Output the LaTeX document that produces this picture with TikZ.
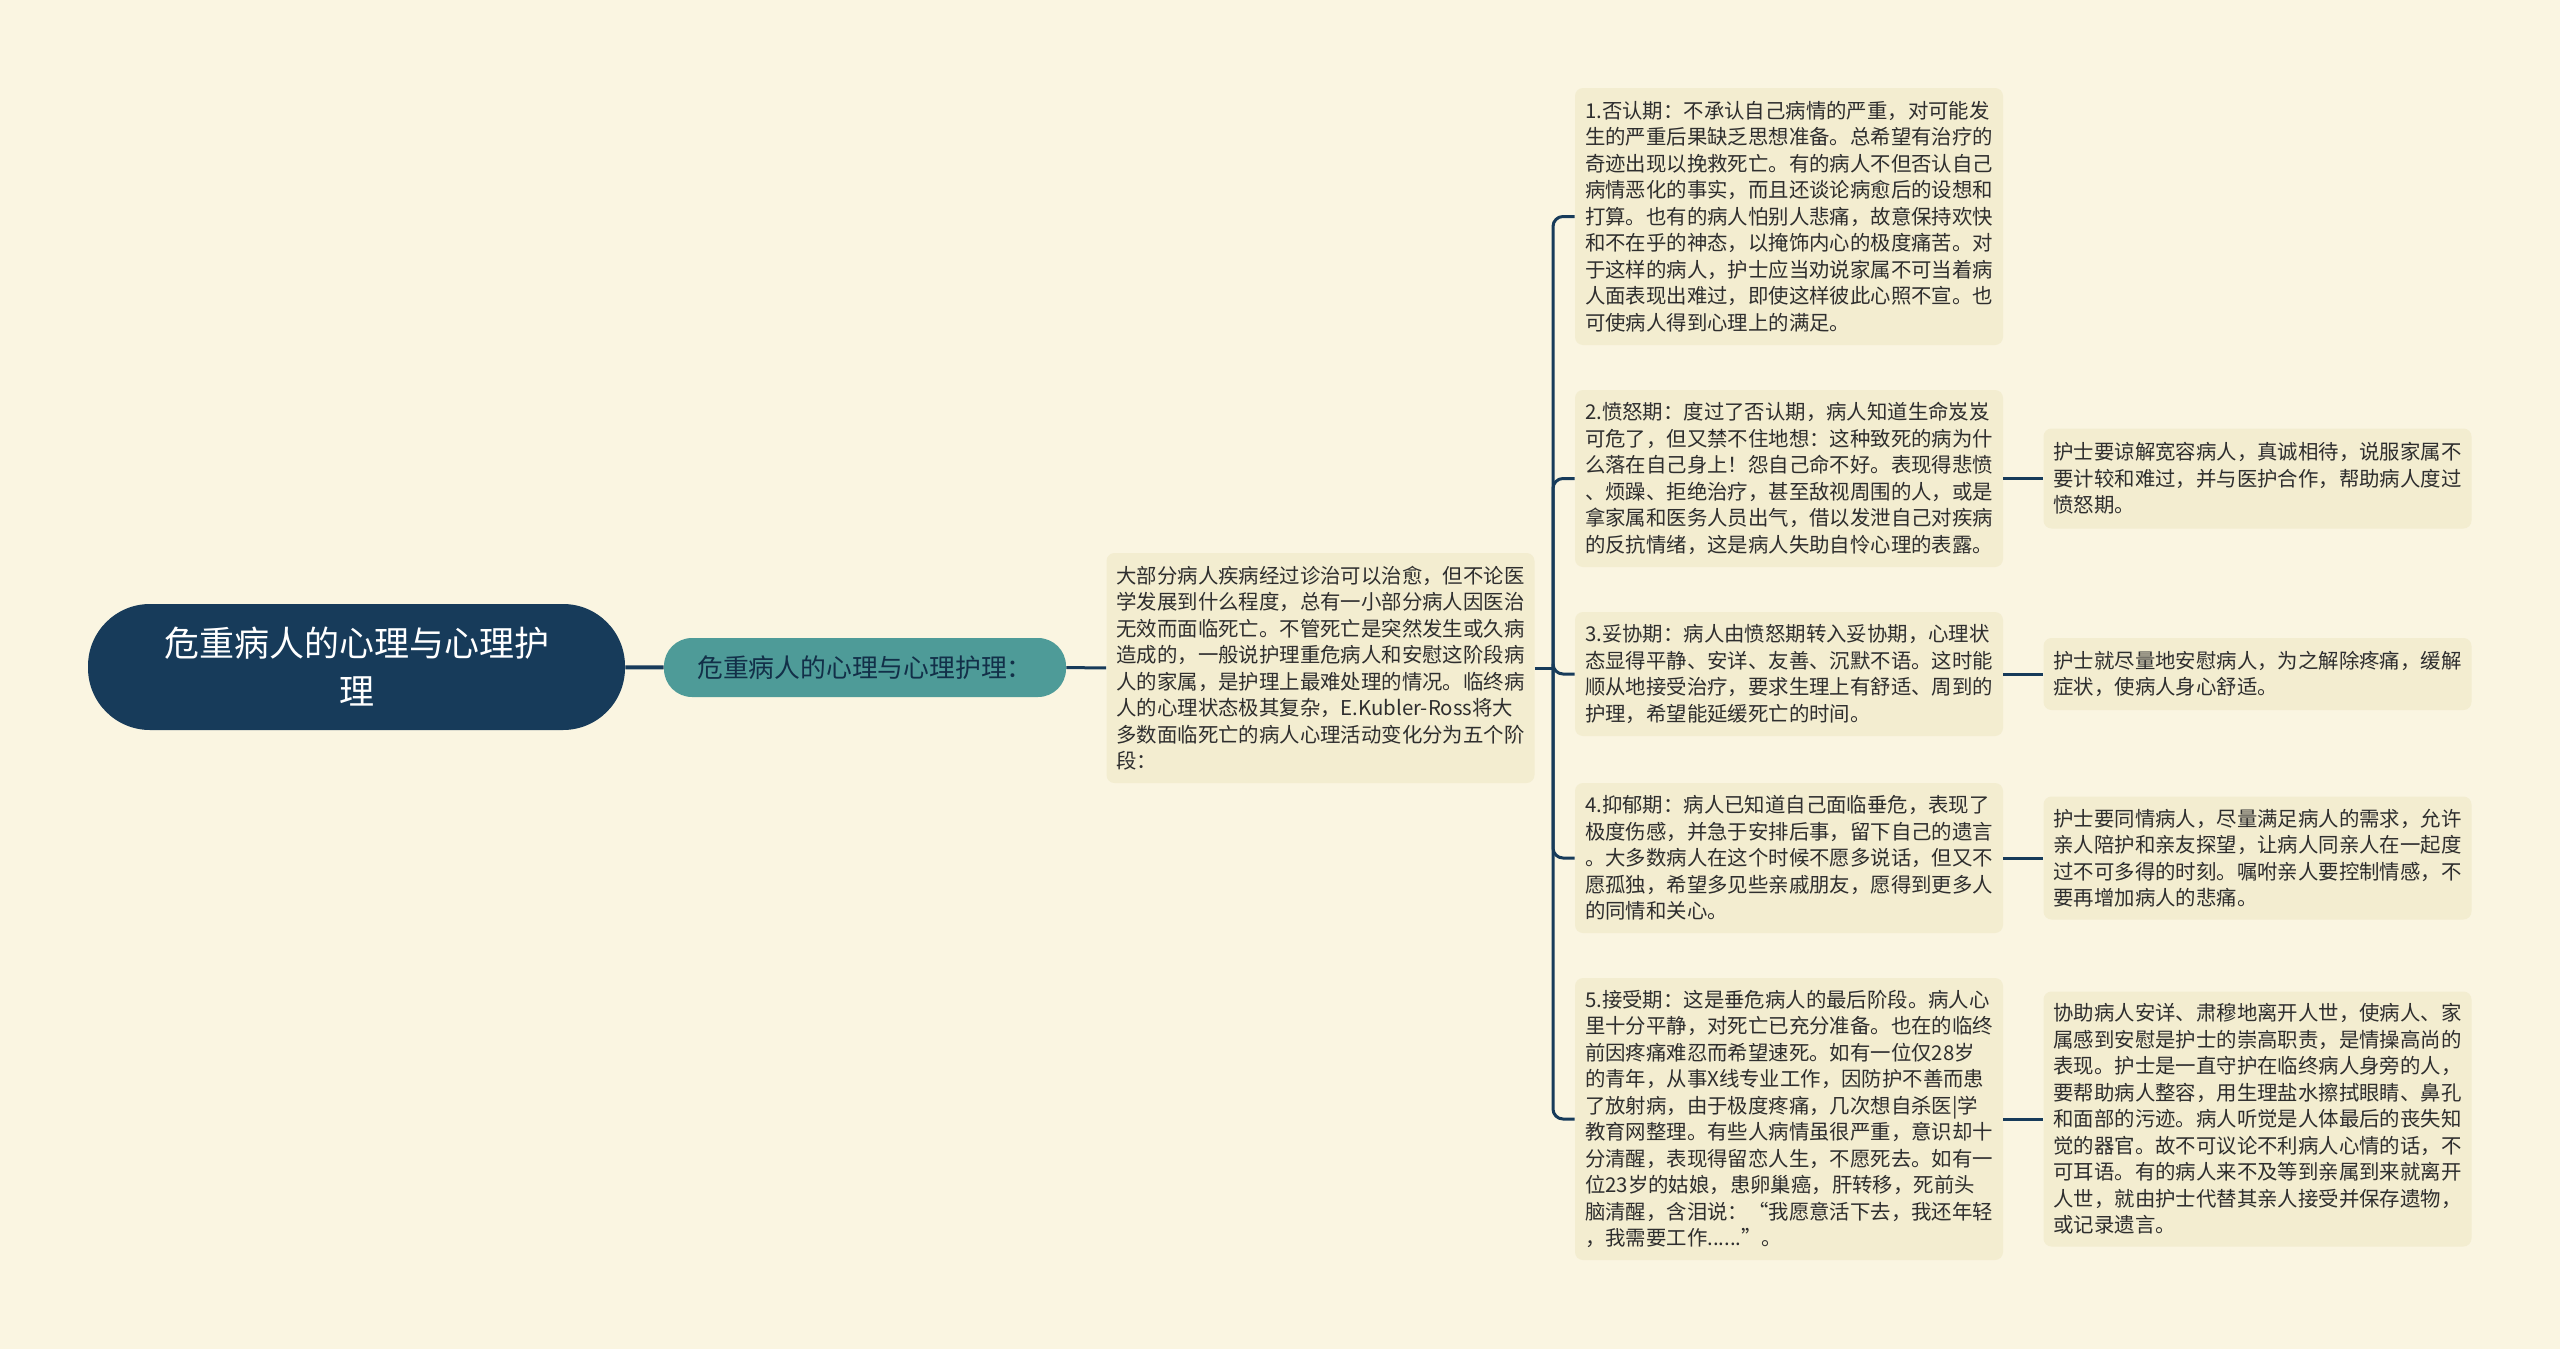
\documentclass[tikz,border=0pt]{standalone}
\usepackage{fontspec}
\newfontfamily\cjk{Noto Sans CJK SC}
\usetikzlibrary{positioning}
\definecolor{bgcream}{HTML}{FAF5E1}
\definecolor{boxcream}{HTML}{F3EDD0}
\definecolor{navy}{HTML}{173B5A}
\definecolor{tealbox}{HTML}{4E9B98}
\definecolor{inkgray}{HTML}{2E2E2E}
\tikzset{
  rootbox/.style={fill=navy,text=white,rounded corners=31pt,minimum width=268.5pt,minimum height=63pt,align=center,font=\cjk\fontsize{17.5}{24}\selectfont},
  subbox/.style={fill=tealbox,text=navy!80!black,rounded corners=14pt,minimum width=201pt,minimum height=29.5pt,font=\cjk\fontsize{12.9}{15}\selectfont},
  textbox/.style={fill=boxcream,text=inkgray,rounded corners=4pt,text width=204pt,align=left,inner sep=5pt,font=\cjk\fontsize{10.2}{13.25}\selectfont},
  link/.style={draw=navy,line width=1.5pt}
}
\begin{document}
\begin{tikzpicture}[x=0.5pt,y=-0.5pt]

\fill[bgcream] (0,0) rectangle (2560,1349);
\useasboundingbox (0,0) rectangle (2560,1349);

% main topic and the first branch
\node[rootbox] (root) at (356.5,667) {危重病人的心理与心理护\\理};
\node[subbox] (sub) at (865,667.5) {危重病人的心理与心理护理：};

\node[textbox,minimum height=115pt] (desc) at (1320.5,668) {大部分病人疾病经过诊治可以治愈，但不论医\\
学发展到什么程度，总有一小部分病人因医治\\
无效而面临死亡。不管死亡是突然发生或久病\\
造成的，一般说护理重危病人和安慰这阶段病\\
人的家属，是护理上最难处理的情况。临终病\\
人的心理状态极其复杂，E.Kubler-Ross将大\\
多数面临死亡的病人心理活动变化分为五个阶\\
段：};

% the five stages
\node[textbox,minimum height=128.5pt] (s1) at (1789,216.5) {1.否认期：不承认自己病情的严重，对可能发\\
生的严重后果缺乏思想准备。总希望有治疗的\\
奇迹出现以挽救死亡。有的病人不但否认自己\\
病情恶化的事实，而且还谈论病愈后的设想和\\
打算。也有的病人怕别人悲痛，故意保持欢快\\
和不在乎的神态，以掩饰内心的极度痛苦。对\\
于这样的病人，护士应当劝说家属不可当着病\\
人面表现出难过，即使这样彼此心照不宣。也\\
可使病人得到心理上的满足。};

\node[textbox,minimum height=88.5pt] (s2) at (1789,478.5) {2.愤怒期：度过了否认期，病人知道生命岌岌\\
可危了，但又禁不住地想：这种致死的病为什\\
么落在自己身上！怨自己命不好。表现得悲愤\\
、烦躁、拒绝治疗，甚至敌视周围的人，或是\\
拿家属和医务人员出气，借以发泄自己对疾病\\
的反抗情绪，这是病人失助自怜心理的表露。};

\node[textbox,minimum height=62pt] (s3) at (1789,674) {3.妥协期：病人由愤怒期转入妥协期，心理状\\
态显得平静、安详、友善、沉默不语。这时能\\
顺从地接受治疗，要求生理上有舒适、周到的\\
护理，希望能延缓死亡的时间。};

\node[textbox,minimum height=75pt] (s4) at (1789,858) {4.抑郁期：病人已知道自己面临垂危，表现了\\
极度伤感，并急于安排后事，留下自己的遗言\\
。大多数病人在这个时候不愿多说话，但又不\\
愿孤独，希望多见些亲戚朋友，愿得到更多人\\
的同情和关心。};

\node[textbox,minimum height=141pt] (s5) at (1789,1119) {5.接受期：这是垂危病人的最后阶段。病人心\\
里十分平静，对死亡已充分准备。也在的临终\\
前因疼痛难忍而希望速死。如有一位仅28岁\\
的青年，从事X线专业工作，因防护不善而患\\
了放射病，由于极度疼痛，几次想自杀医|学\\
教育网整理。有些人病情虽很严重，意识却十\\
分清醒，表现得留恋人生，不愿死去。如有一\\
位23岁的姑娘，患卵巢癌，肝转移，死前头\\
脑清醒，含泪说：“我愿意活下去，我还年轻\\
，我需要工作......”。};

% nursing notes
\node[textbox,minimum height=50pt] (n2) at (2257.5,478.5) {护士要谅解宽容病人，真诚相待，说服家属不\\
要计较和难过，并与医护合作，帮助病人度过\\
愤怒期。};

\node[textbox,minimum height=36pt] (n3) at (2257.5,674) {护士就尽量地安慰病人，为之解除疼痛，缓解\\
症状，使病人身心舒适。};

\node[textbox,minimum height=61.5pt] (n4) at (2257.5,858) {护士要同情病人，尽量满足病人的需求，允许\\
亲人陪护和亲友探望，让病人同亲人在一起度\\
过不可多得的时刻。嘱咐亲人要控制情感，不\\
要再增加病人的悲痛。};

\node[textbox,minimum height=127.5pt] (n5) at (2257.5,1119) {协助病人安详、肃穆地离开人世，使病人、家\\
属感到安慰是护士的崇高职责，是情操高尚的\\
表现。护士是一直守护在临终病人身旁的人，\\
要帮助病人整容，用生理盐水擦拭眼睛、鼻孔\\
和面部的污迹。病人听觉是人体最后的丧失知\\
觉的器官。故不可议论不利病人心情的话，不\\
可耳语。有的病人来不及等到亲属到来就离开\\
人世，就由护士代替其亲人接受并保存遗物，\\
或记录遗言。};

\coordinate (spine) at (1553,668);

% connectors
\draw[link,line width=2pt] (root) -- (sub);
\draw[link] (sub) -- (desc);
\draw[link] (desc) -- (spine);
\foreach \s in {s1,s2,s3,s4,s5}
  \draw[link,rounded corners=5pt] (spine) |- (\s.west);
\foreach \s/\n in {s2/n2,s3/n3,s4/n4,s5/n5}
  \draw[link] (\s) -- (\n);

\end{tikzpicture}
\end{document}
